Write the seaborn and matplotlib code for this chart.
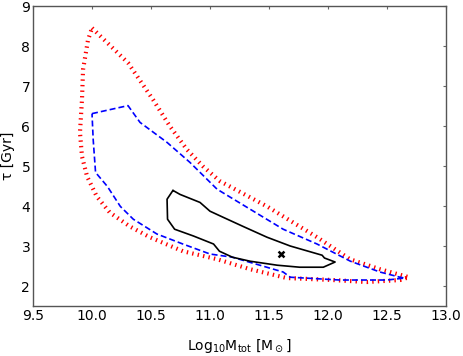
import matplotlib
matplotlib.use("Agg")
import matplotlib.pyplot as plt
import seaborn as sns
import pandas as pd

# Outer (red dotted) contour
red_x = [10.00, 10.305, 10.517, 10.661, 10.805, 10.941, 11.085, 11.483, 11.907, 12.186, 12.44, 12.686,
         12.61, 12.33, 12.04, 11.65, 11.34, 11.06, 10.77, 10.49, 10.32, 10.15, 10.04, 9.958, 9.915, 9.898,
         9.915, 9.924, 9.966, 10.00]
red_y = [8.45, 7.58, 6.66, 5.99, 5.41, 4.99, 4.62, 3.99, 3.22, 2.67, 2.42, 2.22,
         2.15, 2.10, 2.15, 2.20, 2.42, 2.67, 2.87, 3.22, 3.49, 3.84, 4.24, 4.74, 5.24, 5.84,
         6.66, 7.41, 8.15, 8.45]

# Middle (blue dashed) contour
blue_x = [10.00, 10.305, 10.407, 10.636, 10.83, 11.06, 11.34, 11.62, 11.907, 12.19, 12.44, 12.61, 12.65,
          12.50, 12.10, 11.68, 11.62, 11.19, 11.00, 10.77, 10.55, 10.35, 10.24, 10.13, 10.03, 10.01, 10.00]
blue_y = [6.31, 6.51, 6.09, 5.59, 5.09, 4.42, 3.92, 3.42, 3.05, 2.62, 2.35, 2.22, 2.20,
          2.15, 2.15, 2.22, 2.35, 2.72, 2.80, 3.05, 3.30, 3.67, 3.99, 4.49, 4.84, 5.66, 6.31]

# Inner (black solid) contour
black_x = [10.686, 10.746, 10.915, 11.00, 11.11, 11.28, 11.483, 11.68, 11.95, 11.97, 12.06,
           11.96, 11.76, 11.57, 11.34, 11.19, 11.08, 11.03, 10.86, 10.70, 10.64, 10.636, 10.686]
black_y = [4.39, 4.29, 4.09, 3.87, 3.72, 3.49, 3.22, 3.00, 2.77, 2.70, 2.60,
           2.47, 2.47, 2.52, 2.62, 2.72, 2.87, 3.05, 3.25, 3.42, 3.67, 4.17, 4.39]

# Best-fit point
best_x = [11.6]
best_y = [2.80]

x_ticks = [9.5, 10.0, 10.5, 11.0, 11.5, 12.0, 12.5, 13.0]
y_ticks = [2, 3, 4, 5, 6, 7, 8, 9]

sns.set_style("white")
plt.rcParams['font.family'] = ['DejaVu Sans']
plt.rcParams['lines.scale_dashes'] = False
plt.rcParams['text.color'] = 'black'
plt.rcParams['axes.labelcolor'] = 'black'
plt.rcParams['xtick.labelcolor'] = 'black'
plt.rcParams['ytick.labelcolor'] = 'black'

fig = plt.figure(figsize=(4.63, 3.56), dpi=100)
ax = fig.add_axes([0.0713, 0.1404, 0.8920, 0.8427])

df_red = pd.DataFrame({"x": red_x, "y": red_y})
df_blue = pd.DataFrame({"x": blue_x, "y": blue_y})
df_black = pd.DataFrame({"x": black_x, "y": black_y})

sns.lineplot(data=df_red, x="x", y="y", sort=False, estimator=None, color="red",
             linestyle=(0, (1.0, 3.0)), linewidth=3, ax=ax)
sns.lineplot(data=df_blue, x="x", y="y", sort=False, estimator=None, color="blue",
             linestyle=(0, (4.3, 2.2)), linewidth=1.2, ax=ax)
sns.lineplot(data=df_black, x="x", y="y", sort=False, estimator=None, color="black",
             linestyle="-", linewidth=1.2, ax=ax)
sns.scatterplot(x=best_x, y=best_y, marker="x", color="black", s=18, linewidth=1.8, ax=ax, zorder=5)

ax.set_xlim(9.5, 13.0)
ax.set_ylim(1.5, 9.0)
ax.set_xticks(x_ticks)
ax.set_xticklabels([f"{v:.1f}" for v in x_ticks])
ax.set_yticks(y_ticks)
ax.set_yticklabels([str(v) for v in y_ticks])
ax.tick_params(axis='both', which='major', labelsize=10, length=2.5, width=0.8,
               top=True, right=True, direction='in', color='#666666', pad=2,
               labelcolor='black')
for s in ax.spines.values():
    s.set_color('#555555')
    s.set_linewidth(1.0)
    s.set_visible(True)

ax.set_xlabel(r"Log$_{10}$M$_{\rm tot}$ [M$_\odot$]", fontsize=10, labelpad=10, color='black')
ax.set_ylabel("τ [Gyr]", fontsize=10, color='black')
ax.yaxis.set_label_coords(-0.043, 0.5)

fig.savefig("out.png", dpi=100)
